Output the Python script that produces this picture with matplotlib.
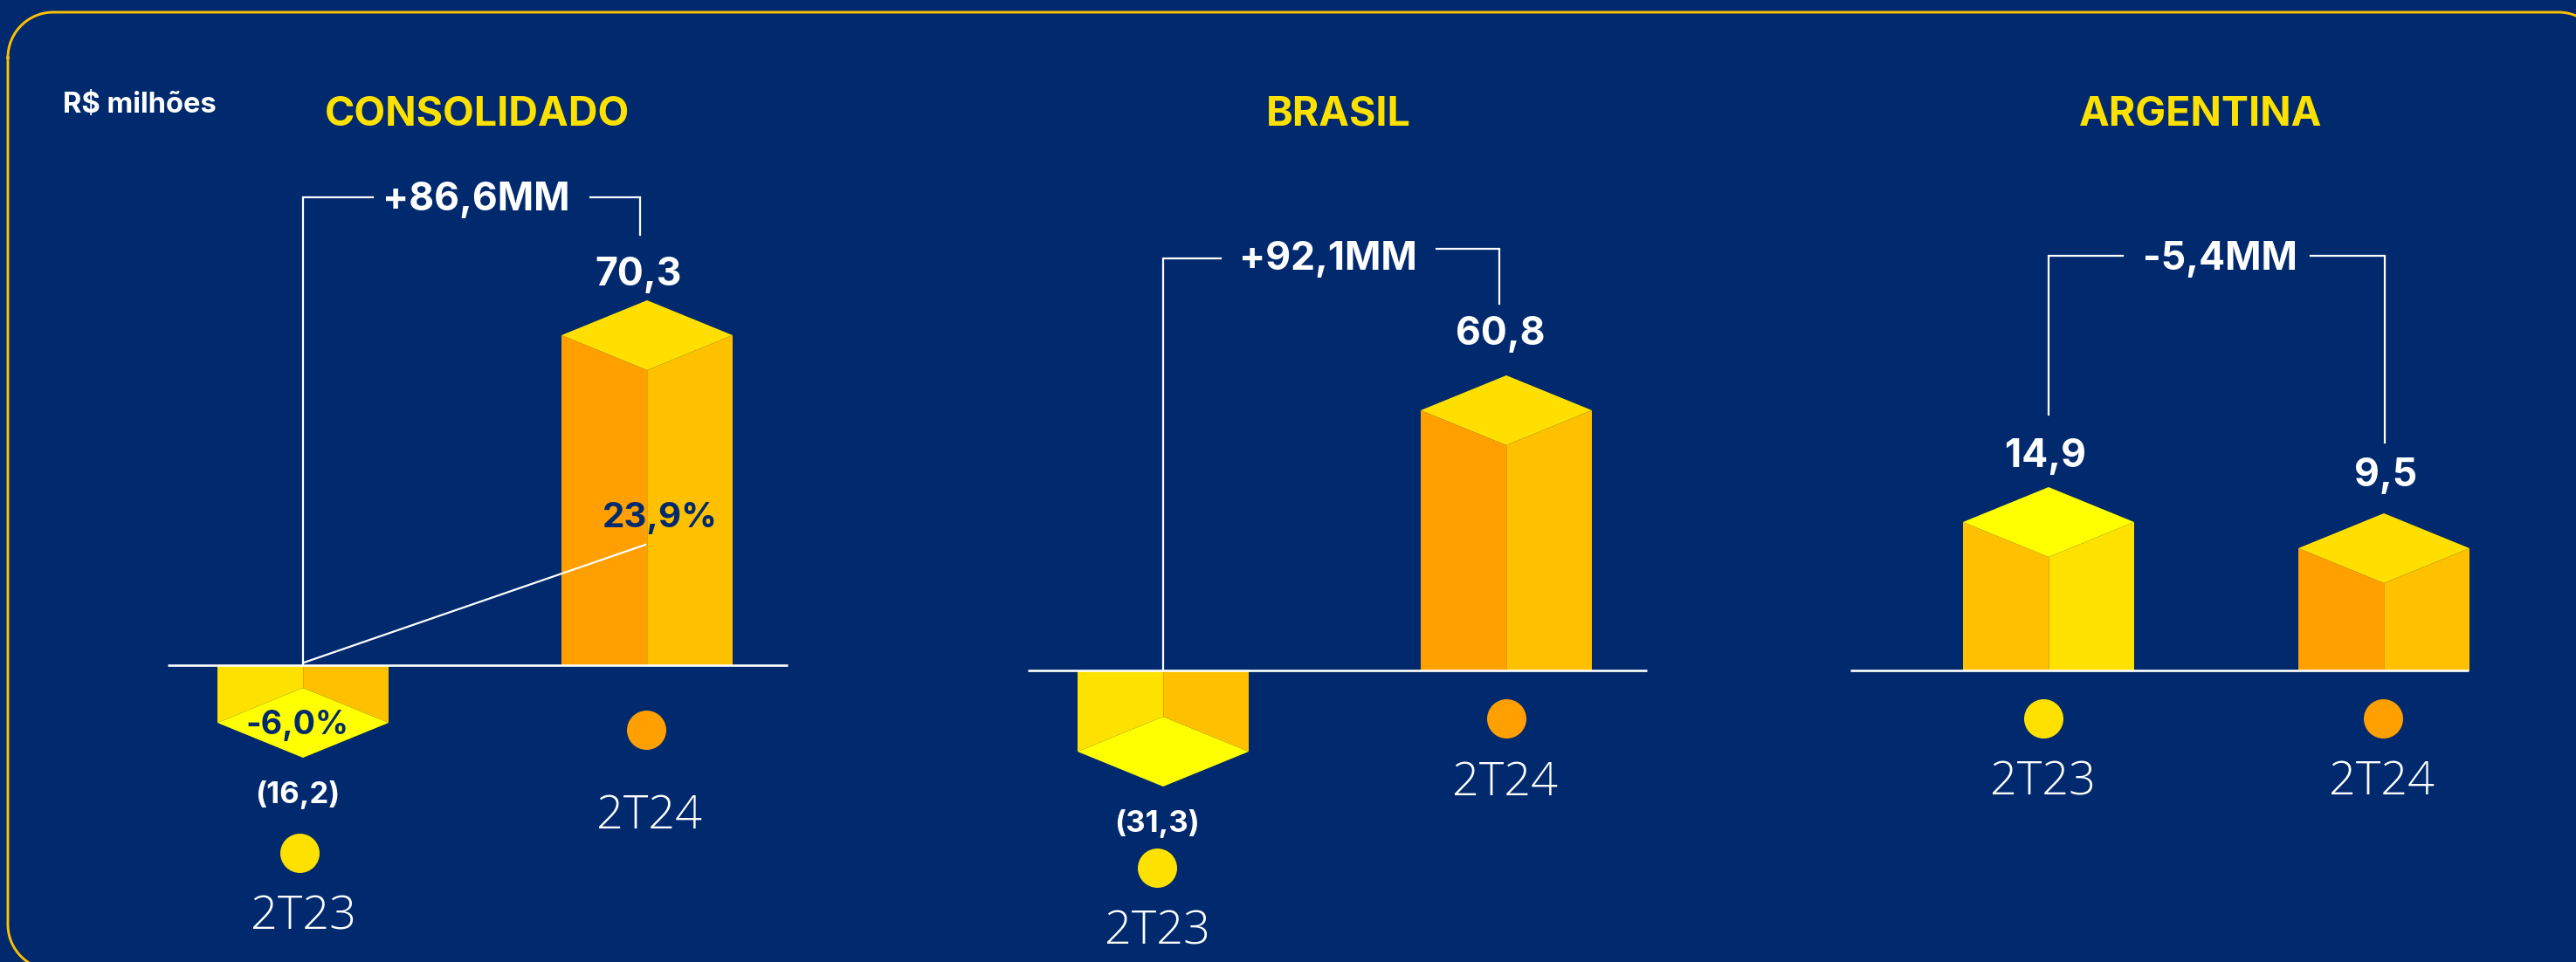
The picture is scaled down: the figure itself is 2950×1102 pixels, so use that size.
#!/usr/bin/env python3
# -*- coding: utf-8 -*-
"""
R$ milhoes, 2T23 vs 2T24 - Consolidado / Brasil / Argentina
Isometric bars, one axes per panel. y axis unit = 1 px, y=0 on the base line.
"""

import numpy as np
import matplotlib
matplotlib.use('Agg')
import matplotlib.pyplot as plt

### DATA ######################################################################
panels   = ['CONSOLIDADO', 'BRASIL', 'ARGENTINA']
periods  = ['2T23', '2T24']

# printed values
labels_cons = ['(16,2)', '70,3']
labels_br   = ['(31,3)', '60,8']
labels_ar   = ['14,9', '9,5']
deltas      = ['+86,6MM', '+92,1MM', '-5,4MM']
margins     = ['-6,0%', '23,9%']

# bar heights as drawn in the picture (not proportional to the printed values)
heights_cons = [-66, 378]
heights_br   = [-93, 298]
heights_ar   = [170, 140]

### SETTINGS ##################################################################
W = 2950; H = 1102
BG = '#012A6E'
YEL = '#FFFF00'; GOLD = '#FFE100'; TOPG = '#FFDF00'; AMB = '#FFC000'; ORG = '#FF9F00'
FONT = 'Inter'
LIGHT = 'Open Sans'

hw = 98      # half width of a bar, px
depth = 40   # half height of the top diamond, px

# per panel: centre px of the two bars, base line px, base line extent px
centers = [(347, 741), (1332, 1725), (2346, 2730)]
base_y  = [762, 768, 768]
base_x  = [(192, 902), (1177, 1886), (2119, 2827)]

# face colours per bar: left, right, diamond
faces = [[(GOLD, AMB, YEL), (ORG, AMB, TOPG)],
         [(GOLD, AMB, YEL), (ORG, AMB, TOPG)],
         [(AMB, GOLD, YEL), (ORG, AMB, TOPG)]]
dot_colors = [GOLD, ORG]

# text / dot places, px in the picture
value_xy  = [[(341, 907), (731, 310)], [(1325, 940), (1718, 379)], [(2343, 519), (2732, 541)]]
value_fs  = [[25, 32], [25, 32], [32, 32]]
dot_xy    = [[(343, 977), (740, 836)], [(1325, 994), (1725, 823)], [(2340, 823), (2729, 823)]]
period_xy = [[(348, 1044), (744, 929)], [(1326, 1061), (1724, 891)], [(2340, 890), (2728, 890)]]
title_xy  = [(547, 127), (1533, 127), (2520, 127)]
delta_xy  = [(545, 225), (1521, 293), (2542, 292)]

# bracket polylines, px in the picture
brackets = [[[(347, 762), (347, 226), (427, 226)], [(676, 226), (733, 226), (733, 269)]],
            [[(1332, 768), (1332, 296), (1398, 296)], [(1645, 285), (1717, 285), (1717, 348)]],
            [[(2346, 475), (2346, 293), (2431, 293)], [(2646, 293), (2731, 293), (2731, 507)]]]

###############################################################################
all_heights = [heights_cons, heights_br, heights_ar]
all_labels  = [labels_cons, labels_br, labels_ar]

fig = plt.figure(figsize=(W/100, H/100), dpi=100, facecolor=BG)

# frame runs off the right and bottom edges of the picture
bg = fig.add_axes([0, 0, 1, 1])
bg.set_xlim(0, W); bg.set_ylim(H, 0); bg.axis('off')

def frame_xy(x0, y0, x1, y1, r):
    xs = []; ys = []
    corners = [(x0+r, y0+r, 180, 270), (x1-r, y0+r, 270, 360), (x1-r, y1-r, 0, 90), (x0+r, y1-r, 90, 180)]
    for cx, cy, a0, a1 in corners:
        t = np.radians(np.linspace(a0, a1, 30))
        xs += list(cx + r*np.cos(t)); ys += list(cy + r*np.sin(t))
    return xs + xs[:1], ys + ys[:1]

fx, fy = frame_xy(9, 14, 2982, 1111, 52)
bg.plot(fx, fy, color=AMB, lw=2.1)
bg.text(72, 120, 'R$ milhões', color='white', fontsize=23.5, fontweight='bold',
        family=FONT, ha='left', va='center')


def draw_bar(ax, x, h, cols, half):
    s = 1 if h > 0 else -1
    inner = h - s*depth
    ax.fill([x-half, x, x, x-half], [0, 0, inner, h], color=cols[0], lw=0)
    ax.fill([x, x+half, x+half, x], [0, 0, h, inner], color=cols[1], lw=0)
    ax.fill([x-half, x, x+half, x], [h, h+depth, h, h-depth], color=cols[2], lw=0)
    ax.plot([x, x], [0, inner], color='#C8A000', lw=0.5)


for i in range(3):
    c0, c1 = centers[i]
    by = base_y[i]
    span = c1 - c0
    x0 = c0 - 200
    x1 = c1 + 200

    def px(x): return (x - c0)/span     # picture x to category x
    def py(y): return by - y            # picture y to data y

    ax = fig.add_axes([x0/W, 0, (x1-x0)/W, 1])
    ax.set_xlim(px(x0), px(x1))
    ax.set_ylim(by-H, by)
    ax.axis('off')
    ax.patch.set_alpha(0)

    half = hw/span
    for j in range(2):
        draw_bar(ax, j, all_heights[i][j], faces[i][j], half)
        ax.scatter(px(dot_xy[i][j][0]), py(dot_xy[i][j][1]), s=1050, color=dot_colors[j], lw=0, zorder=3)
        ax.text(px(value_xy[i][j][0]), py(value_xy[i][j][1]), all_labels[i][j], color='white',
                fontsize=value_fs[i][j], fontweight='bold', family=FONT, ha='center', va='center_baseline', zorder=5)
        ax.text(px(period_xy[i][j][0]), py(period_xy[i][j][1]), periods[j], color='white',
                fontsize=39, fontweight='light', family=LIGHT, ha='center', va='center_baseline', zorder=5)

    # base line
    ax.plot([px(base_x[i][0]), px(base_x[i][1])], [0, 0], color='white', lw=1.9, zorder=4, solid_capstyle='butt', clip_on=False)

    # delta bracket
    for line in brackets[i]:
        ax.plot([px(p[0]) for p in line], [py(p[1]) for p in line], color='white', lw=1.6,
                zorder=4, solid_joinstyle='miter', clip_on=False)
    ax.text(px(delta_xy[i][0]), py(delta_xy[i][1]), deltas[i], color='white', fontsize=32,
            fontweight='bold', family=FONT, ha='center', va='center_baseline', zorder=5, clip_on=False)

    ax.text(px(title_xy[i][0]), py(title_xy[i][1]), panels[i], color=GOLD, fontsize=33.5,
            fontweight='bold', family=FONT, ha='center', va='center_baseline', zorder=5, clip_on=False)

    if i == 0:
        # margin line + labels, only on the consolidated panel
        ax.plot([px(348), px(739)], [py(759), py(624)], color='white', lw=1.6, zorder=4)
        ax.text(px(340), py(827), margins[0], color=BG, fontsize=27, fontweight='bold',
                family=FONT, ha='center', va='center_baseline', zorder=5)
        ax.text(px(756), py(590), margins[1], color=BG, fontsize=29, fontweight='bold',
                family=FONT, ha='center', va='center_baseline', zorder=5)

fig.savefig('out.png', dpi=100, facecolor=BG)
